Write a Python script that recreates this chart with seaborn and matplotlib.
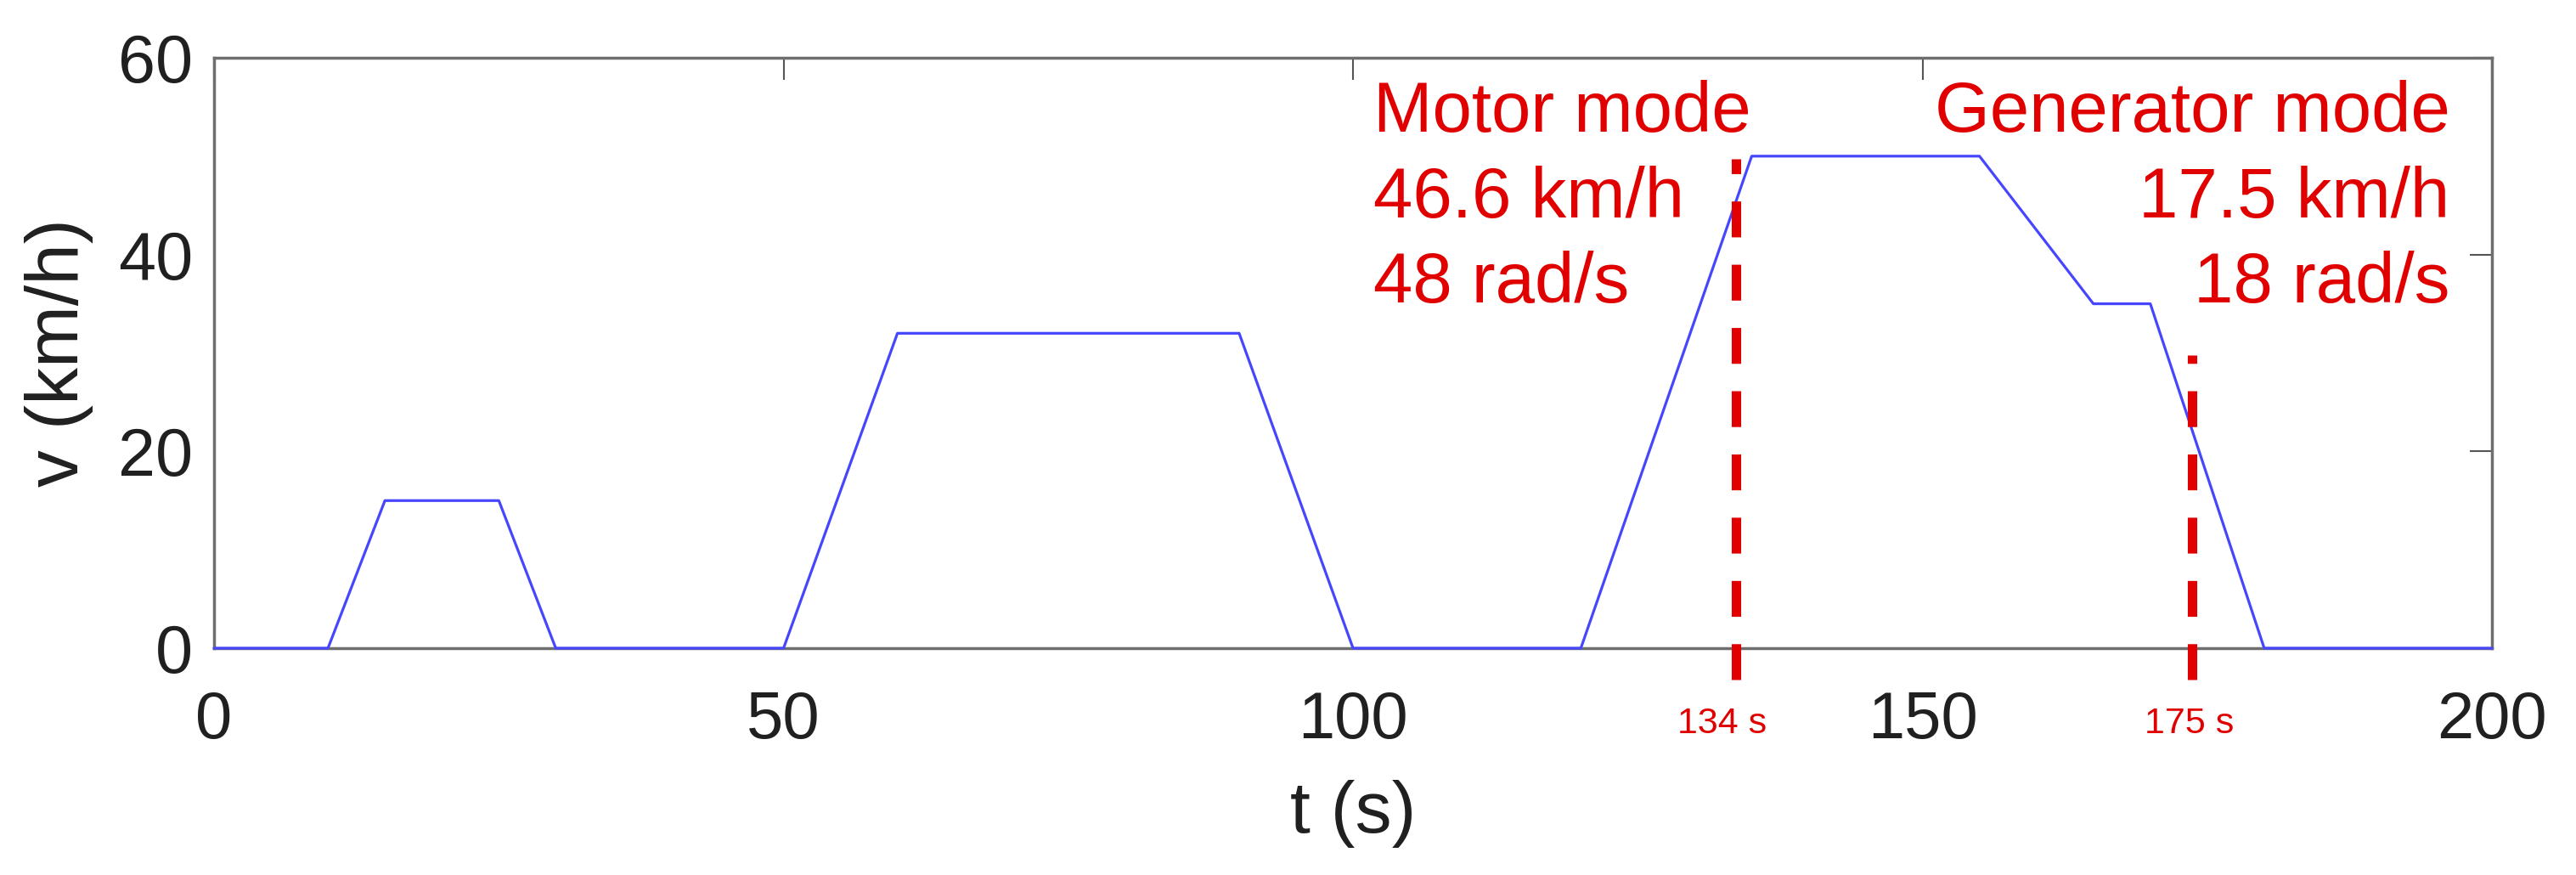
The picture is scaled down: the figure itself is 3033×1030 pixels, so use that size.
import matplotlib
matplotlib.use("Agg")
import matplotlib.pyplot as plt
import seaborn as sns
import pandas as pd

# ---- data ----
t_s = [0, 10, 15, 25, 30, 50, 60, 90, 100, 120, 135, 155, 165, 170, 180, 200]
v_kmh = [0, 0, 15, 15, 0, 0, 32, 32, 0, 0, 50, 50, 35, 35, 0, 0]

mode_t = [133.6, 173.7]          # dashed marker positions (s)
mode_top = [49.7, 29.8]          # where each dashed marker stops (km/h)
mode_labels = ["134 s", "175 s"]
mode_label_t = [132.4, 173.4]

motor_text = ["Motor mode", "46.6 km/h", "48 rad/s"]
gen_text = ["Generator mode", "17.5 km/h", "18 rad/s"]

x_ticks = [0, 50, 100, 150, 200]
y_ticks = [0, 20, 40, 60]

df = pd.DataFrame({"t": t_s, "v": v_kmh})

sns.set_style("white")
plt.rcParams["font.family"] = ["Liberation Sans", "DejaVu Sans"]

RED = "#e00000"
BLUE = "#4646ff"
INK = "#202020"

fig = plt.figure(figsize=(30.33, 10.30), dpi=100)
ax = fig.add_axes([0.0831, 0.2592, 0.8843, 0.6748])

sns.lineplot(data=df, x="t", y="v", ax=ax, color=BLUE, linewidth=2.3,
             zorder=3, clip_on=False)

# dashed markers for motor / generator operating points
for x, top, lab, lx in zip(mode_t, mode_top, mode_labels, mode_label_t):
    ax.plot([x, x], [-3.2, top], color=RED, linewidth=8,
            dashes=(3.8, 2.9), clip_on=False, zorder=4)
    ax.text(lx, -8.6, lab, color=RED, fontsize=31, ha="center",
            va="baseline")

# annotation blocks
for i, (m, g) in enumerate(zip(motor_text, gen_text)):
    y = 52.5 - 8.7 * i
    ax.text(101.8, y, m, color=RED, fontsize=60, ha="left", va="baseline")
    ax.text(196.3, y, g, color=RED, fontsize=60, ha="right", va="baseline")

ax.set_xlim(0, 200)
ax.set_ylim(0, 60)
ax.set_xticks(x_ticks)
ax.set_yticks(y_ticks)
ax.tick_params(axis="both", direction="in", length=19, width=1.5,
               color="#555555", top=True, right=True, labelcolor=INK)
ax.tick_params(axis="x", labelsize=56, pad=35)
ax.tick_params(axis="y", labelsize=57, pad=18)

for s in ax.spines.values():
    s.set_color("#6e6e6e")
    s.set_linewidth(2.5)
    s.set_visible(True)

ax.set_xlabel("t (s)", fontsize=62, color=INK)
ax.set_ylabel("v (km/h)", fontsize=63, color=INK)
ax.xaxis.set_label_coords(0.5, -0.223)
ax.yaxis.set_label_coords(-0.053, 0.5)

fig.savefig("out.png", dpi=100, facecolor="white")
